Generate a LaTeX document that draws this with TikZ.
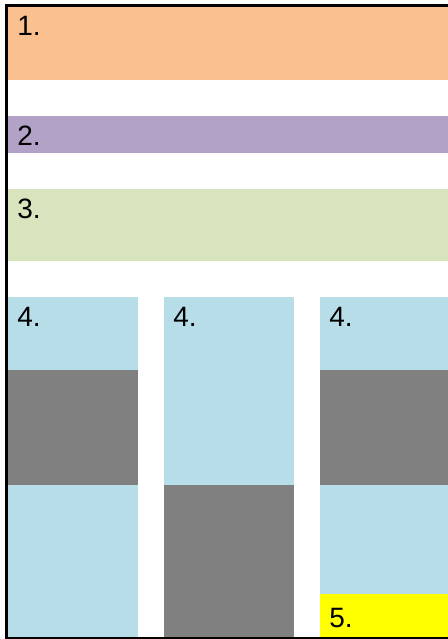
\documentclass[tikz,border=0pt]{standalone}
\usepackage{fontspec}
\setmainfont{Liberation Sans}
\usepackage{xcolor}
\usepackage{tikz}
\definecolor{peachx}{HTML}{FAC090}
\definecolor{lilacx}{HTML}{B3A2C7}
\definecolor{sagex}{HTML}{D7E4BD}
\definecolor{aquax}{HTML}{B7DEE8}
\definecolor{slatex}{HTML}{808080}
\definecolor{lemonx}{HTML}{FFFF00}
\tikzset{
  lbl/.style={anchor=base west,inner sep=0pt,font=\fontsize{21}{24}\selectfont},
  frame/.style={line width=2.2pt,black}
}
\begin{document}
\begin{tikzpicture}[x=0.75pt,y=-0.75pt]
\useasboundingbox (0,0) rectangle (448,639);
% bands
\fill[peachx] (8,7) rectangle (448,80);
\fill[lilacx] (8,116) rectangle (448,153);
\fill[sagex] (8,189) rectangle (448,261);
% columns
\fill[aquax] (8,297) rectangle (138,638);
\fill[slatex] (8,370) rectangle (138,485);
\fill[aquax] (164,297) rectangle (294,638);
\fill[slatex] (164,485) rectangle (294,638);
\fill[aquax] (320,297) rectangle (448,638);
\fill[slatex] (320,370) rectangle (448,485);
\fill[lemonx] (320,594) rectangle (448,638);
% labels
\node[lbl] (one) at (17,36) {1.};
\node[lbl] (two) at (17,145) {2.};
\node[lbl] (three) at (17,218) {3.};
\node[lbl] (fourA) at (17,326) {4.};
\node[lbl] (fourB) at (173,326) {4.};
\node[lbl] (fourC) at (329,326) {4.};
\node[lbl] (five) at (329,627) {5.};
% frame
\draw[frame] (448,5.5) -- (6.5,5.5) -- (6.5,638) -- (448,638);
\end{tikzpicture}
\end{document}
